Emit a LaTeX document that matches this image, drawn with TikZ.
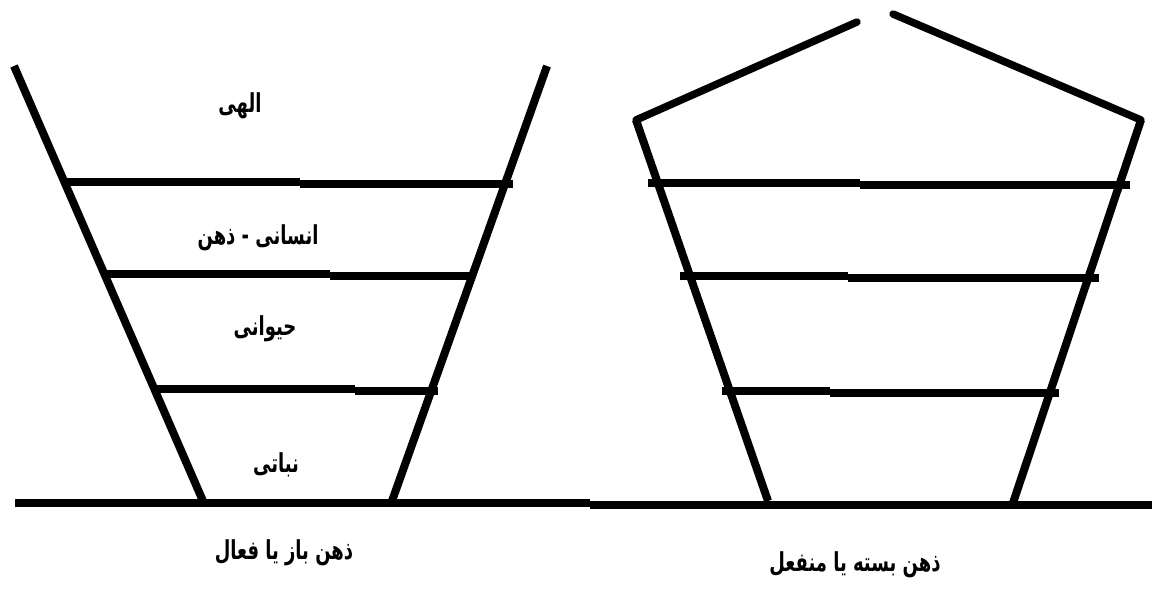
\documentclass[tikz,border=0pt]{standalone}
\usepackage{fontspec}
\TeXXeTstate=1
\newfontfamily\arabicfont[Script=Arabic]{DejaVu Sans}
\newcommand{\artext}[1]{\scalebox{1}[1.45]{\arabicfont\bfseries\fontsize{18}{22}\selectfont\beginR #1\endR}}
\begin{document}
\begin{tikzpicture}[x=1pt,y=-1pt,
  wall/.style={line width=8pt},
  roof/.style={line width=7.5pt,line cap=round},
  lbl/.style={inner sep=0pt}]
\useasboundingbox (0,0) rectangle (1152,595);
% ground
\coordinate (g1) at (15,503);
\coordinate (g2) at (590,503);
\coordinate (g3) at (590,505);
\coordinate (g4) at (1152,505);
\draw[wall] (g1) -- (g2);
\draw[wall] (g3) -- (g4);
% left cup
\coordinate (lt) at (14,66);
\coordinate (lb) at (203,501);
\coordinate (rt) at (547,66);
\coordinate (rb) at (392,501);
\draw[wall] (lt) -- (lb);
\draw[wall] (rt) -- (rb);
\coordinate (a1) at (65,182); \coordinate (a2) at (300,182);
\coordinate (a3) at (300,184); \coordinate (a4) at (513,184);
\draw[wall] (a1) -- (a2); \draw[wall] (a3) -- (a4);
\coordinate (b1) at (105,274); \coordinate (b2) at (330,274);
\coordinate (b3) at (330,276); \coordinate (b4) at (472,276);
\draw[wall] (b1) -- (b2); \draw[wall] (b3) -- (b4);
\coordinate (c1) at (157,389); \coordinate (c2) at (355,389);
\coordinate (c3) at (355,391); \coordinate (c4) at (438,391);
\draw[wall] (c1) -- (c2); \draw[wall] (c3) -- (c4);
% right shape
\coordinate (pl) at (636,120);
\coordinate (pt1) at (857,22);
\coordinate (pt2) at (893,14);
\coordinate (pr) at (1141,120);
\coordinate (ql) at (768,501);
\coordinate (qr) at (1013,503);
\draw[roof] (pt1) -- (pl);
\draw[roof] (pt2) -- (pr);
\draw[wall] (pl) -- (ql);
\draw[wall] (pr) -- (qr);
\coordinate (d1) at (648,183); \coordinate (d2) at (860,183);
\coordinate (d3) at (860,185); \coordinate (d4) at (1130,185);
\draw[wall] (d1) -- (d2); \draw[wall] (d3) -- (d4);
\coordinate (e1) at (680,276); \coordinate (e2) at (848,276);
\coordinate (e3) at (848,278); \coordinate (e4) at (1099,278);
\draw[wall] (e1) -- (e2); \draw[wall] (e3) -- (e4);
\coordinate (f1) at (722,391); \coordinate (f2) at (830,391);
\coordinate (f3) at (830,393); \coordinate (f4) at (1059,393);
\draw[wall] (f1) -- (f2); \draw[wall] (f3) -- (f4);
% labels
\node[lbl] (t1) at (240,106) {\artext{الهی}};
\node[lbl] (t2) at (258,238) {\artext{انسانی - ذهن}};
\node[lbl] (t3) at (265,329) {\artext{حیوانی}};
\node[lbl] (t4) at (276,465) {\artext{نباتی}};
\node[lbl] (t5) at (284,553) {\artext{ذهن باز یا فعال}};
\node[lbl] (t6) at (855,565) {\artext{ذهن بسته یا منفعل}};
\end{tikzpicture}
\end{document}
